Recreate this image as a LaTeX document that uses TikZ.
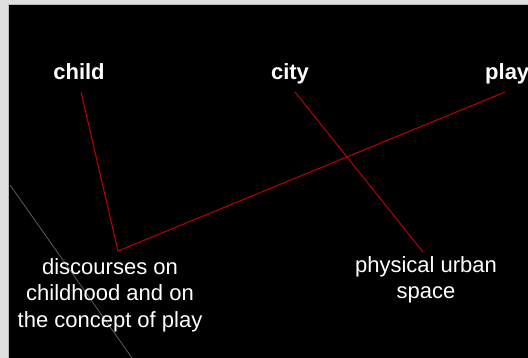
\documentclass[tikz,border=0pt]{standalone}
\usepackage{fontspec}
\setmainfont{Liberation Sans}
\begin{document}
\begin{tikzpicture}[x=1pt,y=-1pt,
  lbl/.style={text=white,font=\fontsize{22}{26.5}\selectfont,align=center,inner sep=0pt},
  bold/.style={lbl,font=\fontsize{22}{26.5}\selectfont\bfseries},
  link/.style={draw={rgb,255:red,192;green,0;blue,0},line width=1pt}]
\useasboundingbox (0,0) rectangle (528,358);
\fill[gray!25] (0,0) rectangle (528,358);
\fill[black] (9,5) rectangle (528,358);
\draw[gray!55,line width=1pt] (8.5,358) -- (8.5,5) -- (528,5);
\draw[gray!80!black,line width=0.7pt] (10,185) -- (132,358);
\node[bold,anchor=base] (child) at (79,80) {child};
\node[bold,anchor=base] (city) at (290,80) {city};
\node[bold,anchor=base west] (play) at (485,80) {play};
\node[lbl,anchor=base] (disc) at (110,327) {discourses on\\childhood and on\\the concept of play};
\node[lbl,anchor=base] (phys) at (426,299) {physical urban\\space};
\coordinate (cc) at (81,92);
\coordinate (ci) at (295,92);
\coordinate (pl) at (505,92);
\coordinate (corner) at (118,251);
\coordinate (ce) at (423,252);
\draw[link] (cc) -- (corner) -- (pl);
\draw[link] (ci) -- (ce);
\end{tikzpicture}
\end{document}
